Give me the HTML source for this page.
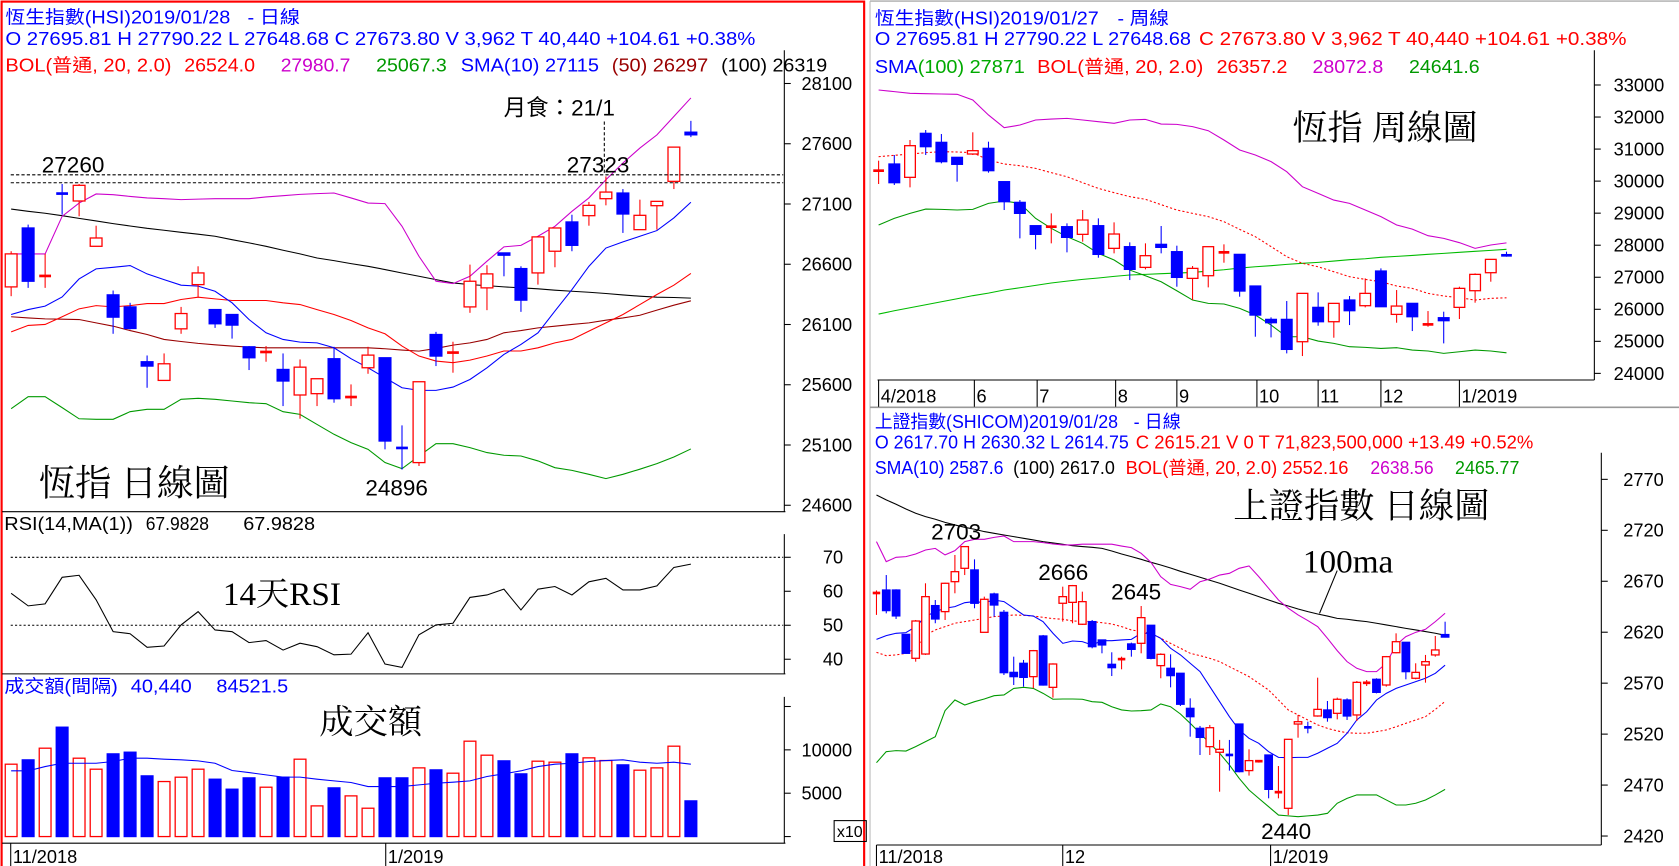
<!DOCTYPE html>
<html><head><meta charset="utf-8"><style>
html,body{margin:0;padding:0;background:#fff;}
svg{display:block;}
text{font-family:"Liberation Sans","Noto Sans CJK TC",sans-serif;}
.big{font-family:"Liberation Serif","Noto Serif CJK SC",serif;fill:#000;}
</style></head><body>
<svg id="chart" xmlns="http://www.w3.org/2000/svg" width="1679" height="866" viewBox="0 0 1567 809" preserveAspectRatio="none">
<rect x="0" y="0" width="1567" height="809" fill="#fff"/>
<!-- panel frames -->
<g fill="none">
<rect x="1.5" y="1.5" width="805" height="810" stroke="#ff0000" stroke-width="2"/>
<line x1="812" y1="1" x2="1567" y2="1" stroke="#999"/>
<line x1="812" y1="1" x2="812" y2="809" stroke="#bbb"/>
<line x1="812" y1="380.5" x2="1567" y2="380.5" stroke="#999" stroke-width="1.5"/>
<!-- left panel axes -->
<line x1="732" y1="47" x2="732" y2="478" stroke="#000"/>
<line x1="2" y1="478" x2="733" y2="478" stroke="#000"/>
<line x1="732" y1="499" x2="732" y2="629.5" stroke="#000"/>
<line x1="2" y1="629.5" x2="733" y2="629.5" stroke="#000"/>
<line x1="732" y1="651" x2="732" y2="787.7" stroke="#000"/>
<line x1="2" y1="787.7" x2="733" y2="787.7" stroke="#000"/>
<line x1="10" y1="787.7" x2="10" y2="809" stroke="#000"/>
<line x1="360" y1="787.7" x2="360" y2="809" stroke="#000"/>
<!-- weekly axes -->
<line x1="819" y1="355" x2="1488" y2="355" stroke="#000"/>
<line x1="1488" y1="47" x2="1488" y2="355" stroke="#000"/>
<!-- shicom axes -->
<line x1="818" y1="789.4" x2="1494.5" y2="789.4" stroke="#000"/>
<line x1="1494.5" y1="423" x2="1494.5" y2="789.4" stroke="#000"/>
<rect x="778.5" y="766.6" width="30" height="19.5" stroke="#000"/>
</g>
<g id="marks"></g>
<!-- headers left -->
<g font-size="17">
<text x="5" y="22" fill="#0000ff" textLength="210" lengthAdjust="spacingAndGlyphs">恆生指數(HSI)2019/01/28</text>
<text x="231" y="22" fill="#0000ff" textLength="49" lengthAdjust="spacingAndGlyphs">- 日線</text>
<text x="5" y="42" fill="#0000ff" textLength="700" lengthAdjust="spacingAndGlyphs">O 27695.81 H 27790.22 L 27648.68 C 27673.80 V 3,962 T 40,440  +104.61  +0.38%</text>
<text x="5" y="67" fill="#ff0000" textLength="155" lengthAdjust="spacingAndGlyphs">BOL(普通, 20, 2.0)</text>
<text x="172" y="67" fill="#ff0000" textLength="66" lengthAdjust="spacingAndGlyphs">26524.0</text>
<text x="262" y="67" fill="#cc00cc" textLength="65" lengthAdjust="spacingAndGlyphs">27980.7</text>
<text x="351" y="67" fill="#009900" textLength="66" lengthAdjust="spacingAndGlyphs">25067.3</text>
<text x="430" y="67" fill="#0000ff" textLength="129" lengthAdjust="spacingAndGlyphs">SMA(10) 27115</text>
<text x="571" y="67" fill="#990000" textLength="90" lengthAdjust="spacingAndGlyphs">(50) 26297</text>
<text x="673" y="67" fill="#000" textLength="99" lengthAdjust="spacingAndGlyphs">(100) 26319</text>
<text x="4" y="495" fill="#000" textLength="120" lengthAdjust="spacingAndGlyphs">RSI(14,MA(1))</text>
<text x="136" y="495" fill="#000" textLength="59" lengthAdjust="spacingAndGlyphs">67.9828</text>
<text x="227" y="495" fill="#000" textLength="67" lengthAdjust="spacingAndGlyphs">67.9828</text>
<text x="4" y="647" fill="#0000ff" textLength="106" lengthAdjust="spacingAndGlyphs">成交額(間隔)</text>
<text x="122" y="647" fill="#0000ff" textLength="57" lengthAdjust="spacingAndGlyphs">40,440</text>
<text x="202" y="647" fill="#0000ff" textLength="67" lengthAdjust="spacingAndGlyphs">84521.5</text>
<text x="781" y="782" fill="#000" font-size="15">x10</text>
<text x="12" y="806" fill="#000">11/2018</text>
<text x="362" y="806" fill="#000">1/2019</text>
</g>
<!-- left annotations -->
<g>
<line x1="10" y1="163.3" x2="731" y2="163.3" stroke="#000" stroke-dasharray="3,2"/>
<line x1="10" y1="170.7" x2="731" y2="170.7" stroke="#000" stroke-dasharray="3,2"/>
<line x1="564" y1="113.5" x2="564" y2="163" stroke="#000" stroke-dasharray="3,2"/>
<text x="39" y="161" font-size="21" fill="#000">27260</text>
<text x="529" y="161" font-size="21" fill="#000">27323</text>
<text x="470" y="108" font-size="21" fill="#000" font-family="Liberation Sans, Noto Sans CJK TC, sans-serif">月食：21/1</text>
<text x="341" y="463" font-size="21" fill="#000">24896</text>
<text class="big" x="36" y="463" font-size="34">恆指 日線圖</text>
<text class="big" x="208" y="565" font-size="31">14天RSI</text>
<text class="big" x="298" y="685" font-size="32">成交額</text>
<line x1="10" y1="520.6" x2="731" y2="520.6" stroke="#000" stroke-dasharray="2,2"/>
<line x1="10" y1="584.1" x2="731" y2="584.1" stroke="#000" stroke-dasharray="2,2"/>
</g>
<!-- weekly header -->
<g font-size="17">
<text x="816.5" y="23" fill="#0000ff" textLength="209" lengthAdjust="spacingAndGlyphs">恆生指數(HSI)2019/01/27</text>
<text x="1043" y="23" fill="#0000ff" textLength="48" lengthAdjust="spacingAndGlyphs">- 周線</text>
<text x="816.5" y="42" fill="#0000ff" textLength="295" lengthAdjust="spacingAndGlyphs">O 27695.81 H 27790.22 L 27648.68</text>
<text x="1119" y="42" fill="#ff0000" textLength="399" lengthAdjust="spacingAndGlyphs">C 27673.80 V 3,962 T 40,440  +104.61  +0.38%</text>
<text x="816.5" y="68" fill="#0000ff" textLength="40" lengthAdjust="spacingAndGlyphs">SMA</text>
<text x="856.5" y="68" fill="#00aa00" textLength="100" lengthAdjust="spacingAndGlyphs">(100) 27871</text>
<text x="968" y="68" fill="#ff0000" textLength="155" lengthAdjust="spacingAndGlyphs">BOL(普通, 20, 2.0)</text>
<text x="1135.5" y="68" fill="#ff0000" textLength="66" lengthAdjust="spacingAndGlyphs">26357.2</text>
<text x="1225" y="68" fill="#cc00cc" textLength="66" lengthAdjust="spacingAndGlyphs">28072.8</text>
<text x="1315" y="68" fill="#009900" textLength="66" lengthAdjust="spacingAndGlyphs">24641.6</text>
<text class="big" x="1206" y="131" font-size="33">恆指 周線圖</text>
</g>
<!-- shicom header -->
<g font-size="17">
<text x="816.5" y="400" fill="#0000ff" textLength="227" lengthAdjust="spacingAndGlyphs">上證指數(SHICOM)2019/01/28</text>
<text x="1058" y="400" fill="#0000ff" textLength="44" lengthAdjust="spacingAndGlyphs">- 日線</text>
<text x="816.5" y="419" fill="#0000ff" textLength="237" lengthAdjust="spacingAndGlyphs">O 2617.70 H 2630.32 L 2614.75</text>
<text x="1060" y="419" fill="#ff0000" textLength="371" lengthAdjust="spacingAndGlyphs">C 2615.21 V 0 T 71,823,500,000  +13.49  +0.52%</text>
<text x="816.5" y="443" fill="#0000ff" textLength="120" lengthAdjust="spacingAndGlyphs">SMA(10) 2587.6</text>
<text x="945.5" y="443" fill="#000" textLength="95" lengthAdjust="spacingAndGlyphs">(100) 2617.0</text>
<text x="1050.5" y="443" fill="#ff0000" textLength="208" lengthAdjust="spacingAndGlyphs">BOL(普通, 20, 2.0)  2552.16</text>
<text x="1279" y="443" fill="#cc00cc" textLength="59" lengthAdjust="spacingAndGlyphs">2638.56</text>
<text x="1358" y="443" fill="#009900" textLength="60" lengthAdjust="spacingAndGlyphs">2465.77</text>
<text class="big" x="1151" y="484" font-size="33">上證指數 日線圖</text>
<text x="869" y="504" font-size="21" fill="#000">2703</text>
<text x="969" y="542" font-size="21" fill="#000">2666</text>
<text x="1037" y="560" font-size="21" fill="#000">2645</text>
<text x="1177" y="784" font-size="21" fill="#000">2440</text>
<text class="big" x="1216" y="535" font-size="31">100ma</text>
<line x1="1248" y1="533" x2="1231.5" y2="573" stroke="#000"/>
</g>
</svg>
<script>
// ---------- HSI daily ----------
const hsiOpen  = [26412,26901,26500,27190,27125,26749,26346,26246,25791,25636,26064,26431,26224,26183,25915,25870,25727,25515,25526,25816,25495,25741,25824,25078,24954,26017,25860,26246,26404,26694,26564,26528,26708,26951,27003,27144,27191,26887,27086,27288,27696];
const hsiHigh  = [26708,26929,26686,27266,27266,26920,26382,26280,25843,25860,26246,26583,26224,26183,25921,25921,25860,25810,25650,25915,25603,25915,25824,25263,25625,26039,25957,26597,26592,26694,26583,26832,26901,27011,27117,27329,27224,27136,27122,27572,27790];
const hsiLow   = [26335,26404,26404,27011,26998,26749,26023,26059,25575,25631,26023,26327,26072,25983,25722,25791,25423,25318,25423,25451,25423,25691,25064,24896,24926,25755,25700,26197,26219,26500,26205,26431,26575,26708,26920,27089,26860,26887,26887,27224,27655];
const hsiClose = [26686,26459,26506,27183,27255,26818,26161,26067,25755,25774,26191,26528,26106,26095,25824,25874,25631,25746,25650,25484,25501,25846,25133,25073,25625,25838,25874,26459,26520,26675,26302,26827,26901,26757,27089,27199,27017,27006,27122,27572,27674];
const hsiBolUpper = [26686,26686,26686,26998,27108,27183,27177,27163,27150,27144,27136,27141,27144,27144,27144,27158,27169,27180,27186,27191,27150,27108,27103,26915,26666,26459,26440,26500,26625,26744,26757,26832,26915,27039,27150,27301,27440,27564,27674,27826,27980];
const hsiBolMid = [26039,26092,26100,26164,26230,26257,26246,26257,26274,26274,26307,26327,26313,26299,26299,26299,26280,26266,26224,26183,26133,26072,26023,25921,25838,25797,25783,25805,25838,25880,25880,25907,25948,25976,26045,26114,26183,26266,26349,26426,26524];
const hsiBolLower = [25401,25501,25501,25410,25318,25313,25313,25376,25396,25396,25479,25487,25479,25465,25451,25443,25376,25354,25271,25189,25120,25064,24954,24904,25009,25111,25111,25078,25037,25015,25009,24968,24912,24890,24857,24821,24857,24899,24946,25001,25067];
const hsiSma10 = [26183,26224,26252,26329,26478,26561,26575,26589,26520,26473,26426,26418,26376,26280,26141,26031,25976,25954,25948,25907,25816,25741,25658,25575,25553,25553,25581,25644,25741,25852,25934,26031,26211,26390,26583,26735,26785,26832,26879,26984,27115];
const hsiSma50 = [26164,26155,26147,26144,26141,26114,26086,26050,26017,25976,25959,25943,25932,25921,25912,25907,25907,25907,25907,25907,25907,25907,25899,25888,25879,25901,25929,25948,25976,26031,26050,26072,26086,26100,26114,26136,26155,26177,26219,26260,26297];
const hsiSma100 = [27058,27039,27023,27003,26981,26959,26937,26918,26898,26882,26865,26849,26832,26804,26777,26749,26716,26686,26652,26630,26605,26583,26556,26528,26500,26473,26445,26431,26423,26412,26404,26396,26385,26376,26368,26357,26346,26335,26327,26324,26319];
const hsiRsi = [59.4,55.7,56.3,64.1,64.7,57.5,48.1,47.5,43.5,43.9,50.1,54.0,48.6,48.1,44.9,45.5,42.7,44.7,43.7,41.3,41.5,47.8,38.6,37.6,47.2,50.1,50.6,58.2,58.9,60.6,54.5,60.6,61.4,58.9,62.8,63.8,60.4,60.4,61.6,67.0,68.0];
const hsiVolume = [8346,8846,10192,12615,9038,7769,9538,9731,7000,6346,6846,7769,6615,5462,6769,5692,6846,8923,3538,5615,4692,3269,6769,6769,7923,7692,7308,11000,9385,8731,7231,8692,8577,9538,9077,8769,8269,7654,7923,10423,4115];
const hsiVolMa = [7577,7577,8077,8462,8462,8462,8654,9038,9038,8923,8846,8731,8462,7615,7385,7115,6846,6846,6615,6423,6231,5769,5769,5769,5962,6154,6269,6423,6923,7231,7577,8077,8346,8462,8654,8769,8846,8577,8462,8577,8346];
const hsiPriceTicks = [28100,27600,27100,26600,26100,25600,25100,24600];
const rsiTicks = [70,60,50,40];
const volTicks = [15000,10000,5000,0];
const volTickLabels = ["","10000","5000",""];

// ---------- HSI weekly ----------
const wkOpen  = [30326,30534,30118,31491,31210,30742,30846,31023,29983,29337,28609,28578,28578,28339,28609,27902,27954,27308,28027,27798,26965,27048,27777,27714,26726,25685,25685,24988,26060,25612,26289,26112,27194,25841,26185,25529,25737,26060,26580,27142,27696];
const wkHigh  = [30638,30815,31283,31595,31470,30742,31523,31231,29983,29410,28609,28994,28682,29098,28838,28713,28089,28058,28599,27985,27350,27954,28027,27714,26726,25748,26258,26497,26528,26185,26414,26965,27277,26601,26185,25945,25925,26705,27121,27558,27798];
const wkLow   = [29910,29879,29806,30815,30555,29983,30815,30264,29098,28214,27870,28058,27777,28110,27610,27746,26913,27246,27746,26705,26289,26684,27454,26393,25144,25123,24624,24541,25487,25113,25508,26060,26081,25581,25321,25456,24936,25696,26206,26861,27641];
const wkClose = [30326,29951,31106,31075,30607,30524,30950,30326,29358,28994,28339,28578,28245,28786,27714,28349,27246,27673,27933,26996,27277,27954,27777,26570,25820,25581,24749,26497,25612,26185,25956,26497,26081,26101,25768,25529,25644,26653,27090,27558,27674];
const wkBolUpper = [32844,32792,32740,32729,32719,32708,32531,32063,31668,31751,31907,31938,31959,31907,31855,31803,31907,31928,31782,31772,31699,31574,31283,30971,30815,30607,30295,29826,29618,29410,29306,29098,28890,28630,28505,28297,28214,28078,27901,28005,28073];
const wkBolMid = [30763,30804,30846,30888,30919,30908,30888,30659,30534,30482,30398,30263,30138,29951,29774,29639,29514,29431,29264,29098,28994,28890,28734,28494,28266,27954,27641,27433,27329,27173,27017,26934,26861,26726,26653,26497,26414,26361,26289,26341,26357];
const wkBolLower = [28630,28838,28994,29129,29119,29098,29119,29306,29379,29306,28838,28526,28266,28057,27745,27537,27225,27048,26861,26580,26289,26185,26164,26029,25820,25508,25144,25144,25008,24936,24832,24811,24780,24801,24728,24697,24624,24676,24728,24697,24642];
const wkSma100 = [25851,25956,26049,26143,26236,26330,26424,26507,26601,26674,26746,26819,26881,26934,26975,27027,27069,27090,27111,27131,27152,27194,27235,27287,27329,27360,27402,27433,27464,27506,27548,27579,27621,27652,27683,27714,27746,27777,27808,27839,27871];
const wkPriceTicks = [33000,32000,31000,30000,29000,28000,27000,26000,25000,24000];
const wkDateLabels = ["4/2018","6","7","8","9","10","11","12","1/2019"];
const wkDateIdx = [0,6.1,10.1,15.1,19,24.1,28,32,37];

// ---------- SHICOM daily ----------
const shOpen  = [2658,2661.4,2661.4,2617.9,2594.4,2598.6,2646.1,2640.2,2669.6,2682.7,2681.1,2619.9,2657.5,2639.5,2580.6,2589.5,2576.4,2616.3,2565.9,2648.4,2649.3,2627.8,2630.4,2612.4,2588.5,2592.8,2608.5,2609.1,2626.8,2587.2,2584.6,2579.7,2545.3,2525.7,2507.7,2502.2,2500.2,2529.9,2484.2,2492.9,2499.5,2462.6,2447.2,2529.9,2527,2537.8,2543.7,2540.4,2553.5,2538.8,2570.2,2573.8,2568.2,2599.9,2610.1,2574.8,2587.8,2597.7,2617.7];
const shHigh  = [2661,2676.1,2662.1,2617.9,2632.0,2668.0,2651.6,2668.6,2695.8,2704.6,2691.5,2654.9,2658.8,2641.8,2596.0,2592.8,2602.6,2617.3,2589.5,2664.7,2666.4,2659.8,2632.0,2612.4,2600.3,2596.0,2609.8,2645.7,2626.8,2599.3,2598.3,2579.7,2555.1,2528.0,2529.0,2514.3,2514.3,2529.9,2505.1,2494.0,2499.5,2488.7,2514.9,2538.8,2532.2,2575.4,2552.5,2555.8,2555.1,2572.1,2573.1,2574.8,2596.7,2618.9,2610.1,2589.5,2597.7,2616.3,2630.32];
const shLow   = [2637,2638.5,2633.0,2599.3,2591.1,2597.7,2628.8,2632.0,2658.2,2676.1,2643.5,2619.9,2635.3,2578.0,2568.2,2566.6,2565.0,2567.6,2555.8,2630.4,2628.8,2627.1,2604.2,2599.3,2577.0,2583.6,2596.0,2599.3,2593.4,2574.8,2565.9,2547.6,2517.5,2499.5,2499.5,2463.5,2484.2,2482.5,2479.3,2492,2457.0,2457.0,2440.6,2516.5,2520.8,2537.1,2532.2,2534.5,2533.9,2532.9,2567.2,2560.0,2566.6,2599.3,2573.8,2573.8,2570.5,2596.0,2614.75];
const shClose = [2659,2641.2,2636.0,2599.3,2631.0,2654.9,2633.0,2668.0,2679.4,2704.0,2648.4,2652.3,2646.7,2580.3,2576.4,2575.7,2601.9,2568.2,2588.8,2654.9,2665.7,2650.0,2605.8,2607.5,2585.2,2594.4,2603.2,2634.3,2594.4,2598.3,2577.4,2549.3,2537.1,2516.8,2526.3,2505.1,2498.9,2483.2,2494.0,2494.0,2465.8,2463.5,2514.9,2532.2,2526.3,2544.3,2536.2,2554.2,2537.8,2570.8,2570.5,2561.0,2596.0,2610.7,2581.3,2580.6,2591.1,2602.6,2615.21];
const shSma100 = [2754.7,2749.8,2745.5,2740.9,2736.7,2733.4,2730.8,2727.8,2725.2,2722.9,2721.0,2718.7,2717.1,2715.4,2713.8,2712.1,2710.5,2708.9,2707.6,2706.3,2704.9,2704.0,2703.3,2702.3,2699.7,2696.8,2694.2,2691.5,2688.6,2686.0,2683.0,2679.8,2676.8,2673.9,2670.9,2668.0,2664.7,2661.4,2658.2,2654.9,2651.6,2648.4,2645.7,2642.8,2640.2,2637.9,2635.9,2633.6,2632.7,2631.4,2630.4,2628.8,2627.1,2625.5,2623.8,2622.2,2620.6,2618.9,2617.0];
const shBolUpper = [2708.9,2689.2,2693.5,2694.2,2696.8,2700.7,2702.3,2695.8,2700.0,2708.9,2711.2,2711.2,2713.1,2714.4,2708.9,2708.9,2708.9,2707.9,2706.6,2705.6,2705.6,2706.3,2706.3,2706.3,2706.3,2704.6,2703.0,2697.4,2688.6,2674.5,2667.0,2664.7,2662.1,2669.6,2672.2,2676.1,2677.8,2682.7,2685.0,2674.5,2663.1,2651.6,2643.5,2636.9,2631.4,2625.5,2614.0,2601.9,2591.1,2584.6,2581.3,2581.3,2589.5,2607.5,2615.7,2619.9,2622.8,2630.4,2638.56];
const shBolMid = [2600.3,2597.0,2597.7,2599.3,2604.2,2617.3,2622.2,2625.5,2628.8,2630.4,2632.0,2633.6,2635.3,2635.9,2636.9,2636.6,2635.9,2634.6,2633.3,2632.7,2631.0,2630.7,2630.4,2629.4,2628.1,2625.5,2622.2,2620.6,2618.9,2614.0,2609.1,2604.2,2599.3,2597.0,2594.4,2591.1,2586.2,2581.3,2576.4,2569.9,2563.3,2553.5,2543.7,2538.8,2533.9,2529.0,2525.7,2523.1,2521.4,2520.8,2520.8,2522.4,2524.1,2527.3,2530.6,2533.9,2537.1,2544.3,2552.16];
const shBolLower = [2492.0,2502.8,2503.8,2503.4,2507.7,2512.6,2517.5,2543.0,2553.5,2548.6,2551.8,2554.5,2557.7,2558.4,2564.9,2565.9,2564.9,2560.0,2554.2,2554.5,2554.5,2554.2,2551.8,2551.2,2546.9,2543.7,2542.7,2543.0,2543.7,2549.6,2546.9,2539.8,2530.6,2520.8,2511.0,2501.2,2489.7,2476.6,2465.2,2457.0,2448.8,2440.6,2439.7,2439.0,2439.7,2440.6,2442.3,2452.1,2457.0,2460.3,2460.3,2460.3,2455.4,2450.5,2450.5,2452.1,2455.4,2460.3,2465.77];
const shSma10 = [2613.0,2616.6,2618.9,2619.6,2625.5,2635.3,2640.2,2643.5,2645.1,2649.0,2650.0,2649.0,2651.6,2650.0,2643.5,2636.9,2635.9,2630.4,2618.9,2609.1,2611.4,2610.8,2607.5,2611.7,2611.7,2612.4,2613.0,2618.9,2618.9,2614.0,2604.2,2597.7,2589.5,2581.3,2566.6,2551.8,2537.1,2524.1,2515.9,2511.0,2502.8,2497.2,2496.9,2497.2,2497.2,2501.2,2506.1,2511.0,2520.8,2533.9,2542.0,2553.5,2560.0,2564.9,2568.2,2571.5,2574.8,2579.7,2587.6];
const shPriceTicks = [2770,2720,2670,2620,2570,2520,2470,2420];
const shDateLabels = ["11/2018","12","1/2019"];
const shDateIdx = [0,19,40.2];
const hsiDateLabels = ["11/2018","1/2019"];

// ---------- axis functions ----------
const xL = i => 10.4 + i * 15.86;
const yL = p => 78 + (28100 - p) * (472 - 78) / 3500;
const yR = v => 520.6 + (70 - v) * 3.175;
const yV = v => 781.5 - v * 0.0081;
const xW = i => 820 + i * 14.65;
const yW = p => 79.4 + (33000 - p) * (348.8 - 79.4) / 9000;
const xS = i => 818 + i * 9.15;
const yS = p => 447.8 + (2770 - p) * (781 - 447.8) / 350;

const NS = 'http://www.w3.org/2000/svg';
const root = document.getElementById('marks');
function mk(tag, attrs, parent) {
  const el = document.createElementNS(NS, tag);
  for (const k in attrs) el.setAttribute(k, attrs[k]);
  (parent || root).appendChild(el);
  return el;
}
function group(name) {
  const g = mk('g', {});
  
  
  return g;
}
function candles(name, O, H, L, C, xf, yf, w) {
  const g = group(name);
  for (let i = 0; i < O.length; i++) {
    const up = C[i] >= O[i];
    const col = up ? '#ff0000' : '#0000ff';
    const x = xf(i);
    const wick = mk('line', {x1: x, x2: x, y1: yf(H[i]), y2: yf(L[i]), stroke: col, 'stroke-width': 1}, g);
    
    
    const top = yf(Math.max(O[i], C[i])), bot = yf(Math.min(O[i], C[i]));
    if (bot - top < 2) {
      const t = mk('line', {x1: x - w / 2, x2: x + w / 2, y1: (top + bot) / 2, y2: (top + bot) / 2, stroke: col, 'stroke-width': 2.5}, g);
      
      
    } else {
      const b = mk('rect', {x: x - w / 2, y: top, width: w, height: bot - top, fill: up ? '#fff' : '#0000ff', stroke: col, 'stroke-width': 1.2}, g);
      
      
    }
  }
}
function line(name, vals, xf, yf, col, width, dash) {
  const pts = vals.map((v, i) => xf(i).toFixed(1) + ',' + yf(v).toFixed(1)).join(' ');
  const p = mk('polyline', {points: pts, fill: 'none', stroke: col, 'stroke-width': width || 1});
  if (dash) p.setAttribute('stroke-dasharray', dash);
  
  
}
function yTicks(name, ticks, labels, yf, axisX, labelX) {
  const g = group(name);
  ticks.forEach((t, k) => {
    const tk = mk('line', {x1: axisX, x2: axisX + 6, y1: yf(t), y2: yf(t), stroke: '#000'}, g);
    
    
    const tx = mk('text', {x: labelX, y: yf(t) + 6, 'font-size': 17, fill: '#000'}, g);
    tx.textContent = labels[k];
    
    
  });
}
function xTicks(name, idx, labels, xf, y1, y2, ly) {
  const g = group(name);
  idx.forEach((ix, k) => {
    const x = xf(ix);
    const tk = mk('line', {x1: x, x2: x, y1: y1, y2: y2, stroke: '#000'}, g);
    
    
    const tx = mk('text', {x: x + 2, y: ly, 'font-size': 17, fill: '#000'}, g);
    tx.textContent = labels[k];
    
    
  });
}

// HSI daily main
line('hsi-sma100-line', hsiSma100, xL, yL, '#000');
line('hsi-sma50-line', hsiSma50, xL, yL, '#990000');
line('hsi-bol-mid-line', hsiBolMid, xL, yL, '#ff0000');
line('hsi-bol-upper-line', hsiBolUpper, xL, yL, '#cc00cc');
line('hsi-bol-lower-line', hsiBolLower, xL, yL, '#009900');
line('hsi-sma10-line', hsiSma10, xL, yL, '#0000ff');
candles('hsi-daily-candles', hsiOpen, hsiHigh, hsiLow, hsiClose, xL, yL, 11);
yTicks('hsi-price-axis', hsiPriceTicks, hsiPriceTicks.map(String), yL, 732, 748);
// RSI
line('rsi-line', hsiRsi, xL, yR, '#000');
yTicks('rsi-axis', rsiTicks, rsiTicks.map(String), yR, 732, 768);
// Volume
const vg = group('volume-bars');
hsiVolume.forEach((v, i) => {
  const up = hsiClose[i] >= hsiOpen[i];
  const r = mk('rect', {x: xL(i) - 5.5, y: yV(v), width: 11, height: yV(0) - yV(v), fill: up ? '#fff' : '#0000ff', stroke: up ? '#ff0000' : '#0000ff', 'stroke-width': 1.2}, vg);
  
  
});
line('volume-ma-line', hsiVolMa, xL, yV, '#0000ff');
yTicks('volume-axis', volTicks, volTickLabels, yV, 732, 748);

// Weekly
line('wk-sma100-line', wkSma100, xW, yW, '#00bb00');
line('wk-bol-upper-line', wkBolUpper, xW, yW, '#cc00cc');
line('wk-bol-mid-line', wkBolMid, xW, yW, '#ff0000', 1, '2,2');
line('wk-bol-lower-line', wkBolLower, xW, yW, '#009900');
candles('wk-candles', wkOpen, wkHigh, wkLow, wkClose, xW, yW, 10);
yTicks('wk-price-axis', wkPriceTicks, wkPriceTicks.map(String), yW, 1488, 1506);
xTicks('wk-date-axis', wkDateIdx, wkDateLabels, xW, 355, 380, 376);

// SHICOM
line('sh-sma100-line', shSma100, xS, yS, '#000');
line('sh-bol-upper-line', shBolUpper, xS, yS, '#cc00cc');
line('sh-bol-mid-line', shBolMid, xS, yS, '#ff0000', 1, '2,2');
line('sh-bol-lower-line', shBolLower, xS, yS, '#009900');
line('sh-sma10-line', shSma10, xS, yS, '#0000ff');
candles('sh-candles', shOpen, shHigh, shLow, shClose, xS, yS, 7);
yTicks('sh-price-axis', shPriceTicks, shPriceTicks.map(String), yS, 1494.5, 1515);
xTicks('sh-date-axis', shDateIdx, shDateLabels, xS, 789.4, 809, 806);
</script>
</body></html>
